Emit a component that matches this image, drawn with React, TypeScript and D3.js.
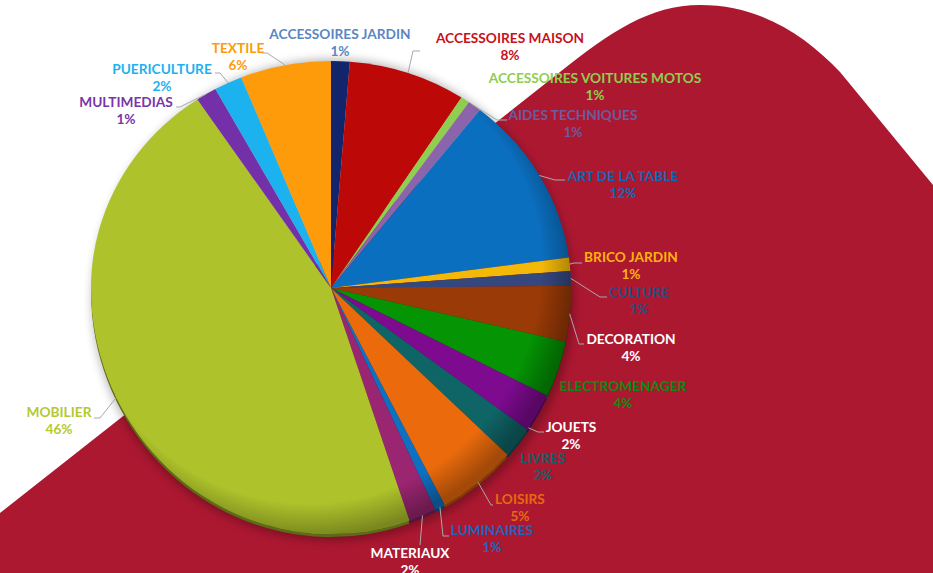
import React from "react";
import * as d3 from "d3";

const categories = ["ACCESSOIRES JARDIN","ACCESSOIRES MAISON","ACCESSOIRES VOITURES MOTOS","AIDES TECHNIQUES","ART DE LA TABLE","BRICO JARDIN","CULTURE","DECORATION","ELECTROMENAGER","JOUETS","LIVRES","LOISIRS","LUMINAIRES","MATERIAUX","MOBILIER","MULTIMEDIAS","PUERICULTURE","TEXTILE"];
const shares = [1.25,7.9,0.6,0.9,12.2,0.95,1.05,3.65,3.7,2.55,2.1,5.3,0.7,1.85,45.9,1.4,1.9,6.1];
const labels = ["1%","8%","1%","1%","12%","1%","1%","4%","4%","2%","2%","5%","1%","2%","46%","1%","2%","6%"];
const sliceColors = ["#12246b","#bd0808","#8fce4e","#8c64ab","#0b6fc0","#f4b908","#34477f","#9a3a06","#049404","#7d0a8f","#0f6466","#ea6a0c","#0d70c0","#9a2570","#adc22b","#7430a8","#1bb2ef","#fd9b0b"];
const labelColors = ["#5b86c4","#c8101a","#8fce4e","#6f5a9e","#0a6ab8","#fcb30f","#2f4a7c","#ffffff","#0d8a12","#ffffff","#14606a","#e56a12","#1a66bd","#ffffff","#b4c92f","#7a35a8","#1bb2ef","#fd9b0b"];

// label layout: [centre x, name baseline y]
const labelPos: [number, number][] = [[340,39],[510,43],[595,83],[573,120],[623,181],[631,262],[639,297],[631,344],[623,391],[571,432],[543,463],[520,504],[492,535],[410,558],[59,417],[126,107],[162,74],[238,53]];
// leader elbows; empty = no leader
const elbows: [number, number][][] = [[],[[413,51],[420,51]],[],[[497,120],[507,120]],[[555,180],[565,180]],[[574,263],[582,263]],[[600,297],[607,297]],[[579,344],[584,344]],[],[[538,432],[544,432]],[],[[491,505],[493,505]],[[443,536],[449,536]],[[420,545]],[[100,418],[94,418]],[[180,107],[176,107]],[[220,73],[215,73]],[[267,53],[262,53]]];
// where along each slice's arc its leader starts (0 = start, 1 = end)
const leaderStart = [0.5,0.5,0.5,0.2,0.5,0.5,0.5,0.5,0.5,0.95,0.5,0.5,0.5,0.5,0.5,0.5,0.5,0.5];

const W = 933, H = 573, CX = 331, CY = 288, R = 240, K_TOP = 0.946, K_BOTTOM = 1.025;
const background = "M0,513 L560,72 C610,32 650,5 700,5 C760,5 805,35 840,72 L933,185 L933,573 L0,573 Z";

export default function App() {
  const pie = d3.pie<number>().sort(null).value((d) => d);
  const arcs = pie(shares);
  const arc = d3.arc<d3.PieArcDatum<number>>().innerRadius(0).outerRadius(R);
  const dark = (c: string) => d3.color(c)!.darker(1.7).formatHex();
  const anchor = (a: d3.PieArcDatum<number>, i: number): [number, number] => {
    const m = a.startAngle + (a.endAngle - a.startAngle) * leaderStart[i];
    const c = Math.cos(m);
    return [CX + Math.sin(m) * R, CY - c * R * (c > 0 ? K_TOP : K_BOTTOM)];
  };
  const slices = arcs.map((a, i) => <path key={i} d={arc(a)!} fill={sliceColors[i]} />);
  return (
    <svg width={W} height={H} viewBox={`0 0 ${W} ${H}`} style={{ position: "absolute", left: 0, top: 0, background: "#fff" }}>
      <defs>
        <filter id="shadow" x="-10%" y="-10%" width="120%" height="120%"><feGaussianBlur stdDeviation="5" /></filter>
        <radialGradient id="rim" gradientUnits="userSpaceOnUse" cx={-22} cy={-22} r={R + 24}>
          <stop offset="88%" stopColor="#000" stopOpacity="0" />
          <stop offset="100%" stopColor="#000" stopOpacity="0.3" />
        </radialGradient>
        <clipPath id="upper"><rect x={-R - 5} y={-R - 5} width={2 * R + 10} height={R + 5} /></clipPath>
        <clipPath id="lower"><rect x={-R - 5} y={-1} width={2 * R + 10} height={R + 6} /></clipPath>
      </defs>
      <path d={background} fill="#ad1831" />
      <ellipse cx={CX + 2} cy={CY + 12} rx={R + 1} ry={R + 1} fill="#000" opacity={0.28} filter="url(#shadow)" />
      <g transform={`translate(${CX},${CY + 3}) scale(1,${K_BOTTOM})`} clipPath="url(#lower)">
        {arcs.map((a, i) => <path key={i} d={arc(a)!} fill={dark(sliceColors[i])} />)}
      </g>
      <g transform={`translate(${CX},${CY}) scale(1,${K_BOTTOM})`} clipPath="url(#lower)">
        {slices}
        <circle r={R} fill="url(#rim)" />
      </g>
      <g transform={`translate(${CX},${CY}) scale(1,${K_TOP})`} clipPath="url(#upper)">
        {slices}
        <circle r={R} fill="url(#rim)" />
      </g>
      <g fill="none" stroke="#a9a9a9" strokeWidth={1}>
        {arcs.map((a, i) => elbows[i].length ? (
          <polyline key={i} points={[anchor(a, i), ...elbows[i]].map((p) => p.join(",")).join(" ")} />
        ) : null)}
      </g>
      <g fontFamily="Lato, sans-serif" fontWeight={700} fontSize={13.7} textAnchor="middle">
        {categories.map((c, i) => (
          <text key={c} fill={labelColors[i]}>
            <tspan x={labelPos[i][0]} y={labelPos[i][1]}>{c}</tspan>
            <tspan x={labelPos[i][0]} y={labelPos[i][1] + 17}>{labels[i]}</tspan>
          </text>
        ))}
      </g>
    </svg>
  );
}
